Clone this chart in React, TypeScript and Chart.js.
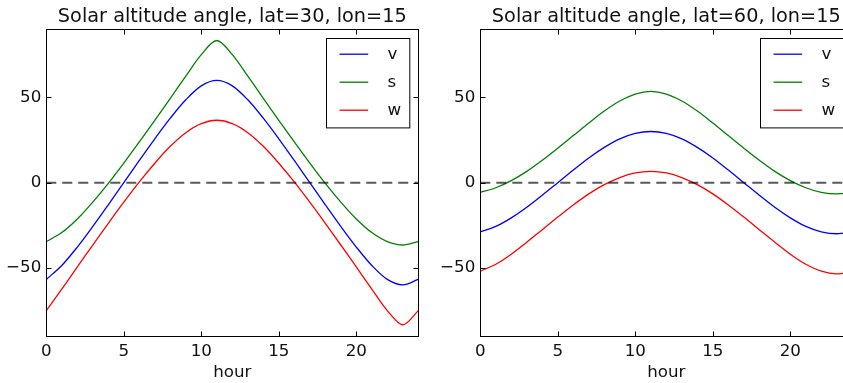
import React, { useEffect, useRef } from "react";
import { Chart, registerables } from "chart.js";

Chart.register(...registerables);

// ---- data ----
const hours = [0, 1, 2, 3, 4, 5, 6, 7, 8, 9, 10, 11, 12, 13, 14, 15, 16, 17, 18, 19, 20, 21, 22, 23, 24];

const v30 = [-56.8, -48.6, -37.8, -25.7, -13.0, 0, 13.0, 25.7, 37.8, 48.6, 56.8, 60.0, 56.8, 48.6, 37.8, 25.7, 13.0, 0, -13.0, -25.7, -37.8, -48.6, -56.8, -60.0, -56.8];
const s30 = [-34.6, -29.3, -21.3, -11.4, -0.4, 11.5, 23.9, 36.6, 49.5, 62.5, 75.1, 83.4, 75.1, 62.5, 49.5, 36.6, 23.9, 11.5, -0.4, -11.4, -21.3, -29.3, -34.6, -36.6, -34.6];
const w30 = [-75.1, -62.5, -49.5, -36.6, -23.9, -11.5, 0.4, 11.4, 21.3, 29.3, 34.6, 36.6, 34.6, 29.3, 21.3, 11.4, 0.4, -11.5, -23.9, -36.6, -49.5, -62.5, -75.1, -83.4, -75.1];

const v60 = [-28.9, -25.7, -20.7, -14.5, -7.4, 0, 7.4, 14.5, 20.7, 25.7, 28.9, 30.0, 28.9, 25.7, 20.7, 14.5, 7.4, 0, -7.4, -14.5, -20.7, -25.7, -28.9, -30.0, -28.9];
const s60 = [-5.7, -3.0, 1.2, 6.6, 13.1, 20.2, 27.6, 35.0, 42.0, 47.9, 52.0, 53.5, 52.0, 47.9, 42.0, 35.0, 27.6, 20.2, 13.1, 6.6, 1.2, -3.0, -5.7, -6.6, -5.7];
const w60 = [-52.0, -47.9, -42.0, -35.0, -27.6, -20.2, -13.1, -6.6, -1.2, 3.0, 5.7, 6.6, 5.7, 3.0, -1.2, -6.6, -13.1, -20.2, -27.6, -35.0, -42.0, -47.9, -52.0, -53.5, -52.0];

const seriesLabels = ["v", "s", "w"];
const seriesColors = ["#0000ff", "#008000", "#ff0000"];
const titles = ["Solar altitude angle, lat=30, lon=15", "Solar altitude angle, lat=60, lon=15"];
const xLabel = "hour";
const xTicks = [0, 5, 10, 15, 20];
const yTicks = [-50, 0, 50];
const xRange = [0, 24];
const yRange = [-90, 90];
const zeroLevel = 0;

const FONT = "'DejaVu Sans', sans-serif";
const TEXT = "#111";
const CANVAS_W = 432;
const CANVAS_H = 383;

const framePlugin = {
  id: "mplFrame",
  afterDatasetsDraw(chart: any) {
    const { ctx, chartArea: ca, scales } = chart;
    ctx.save();
    ctx.strokeStyle = "#000";
    ctx.lineWidth = 1;
    const l = Math.round(ca.left) + 0.5;
    const r = Math.round(ca.right) + 0.5;
    const t = Math.round(ca.top) + 0.5;
    const b = Math.round(ca.bottom) + 0.5;
    ctx.strokeRect(l, t, r - l, b - t);
    const tl = 5;
    ctx.beginPath();
    xTicks.forEach((v) => {
      const px = Math.round(scales.x.getPixelForValue(v)) + 0.5;
      ctx.moveTo(px, b);
      ctx.lineTo(px, b - tl);
      ctx.moveTo(px, t);
      ctx.lineTo(px, t + tl);
    });
    yTicks.forEach((v) => {
      const py = Math.round(scales.y.getPixelForValue(v)) + 0.5;
      ctx.moveTo(l, py);
      ctx.lineTo(l + tl, py);
      ctx.moveTo(r, py);
      ctx.lineTo(r - tl, py);
    });
    ctx.stroke();

    // legend (matplotlib style, upper right)
    const items = chart.data.datasets.filter((d: any) => seriesLabels.includes(d.label));
    const bw = 83.3;
    const bh = 89.4;
    const bx = Math.round(ca.right - 92.3) + 0.5;
    const by = Math.round(ca.top + 9) + 0.5;
    ctx.fillStyle = "#fff";
    ctx.fillRect(bx, by, bw, bh);
    ctx.strokeStyle = "#000";
    ctx.lineWidth = 1;
    ctx.strokeRect(bx, by, bw, bh);
    ctx.font = `16.7px ${FONT}`;
    ctx.textBaseline = "middle";
    ctx.textAlign = "left";
    items.forEach((d: any, i: number) => {
      const y = by + 15.7 + i * 28;
      ctx.strokeStyle = d.borderColor;
      ctx.lineWidth = 1.3;
      ctx.beginPath();
      ctx.moveTo(bx + 13, y);
      ctx.lineTo(bx + 41.7, y);
      ctx.stroke();
      ctx.fillStyle = TEXT;
      ctx.fillText(d.label, bx + 61, y + 0.5);
    });
    ctx.restore();
  },
};

function makeConfig(title: string, series: number[][]): any {
  const datasets: any[] = series.map((vals, i) => ({
    label: seriesLabels[i],
    data: hours.map((h, j) => ({ x: h, y: vals[j] })),
    borderColor: seriesColors[i],
    backgroundColor: seriesColors[i],
    borderWidth: 1.3,
    pointRadius: 0,
    tension: 0.33,
    fill: false,
    order: 4 - i,
  }));
  datasets.push({
    label: "_zero",
    data: [
      { x: xRange[0], y: zeroLevel },
      { x: xRange[1], y: zeroLevel },
    ],
    borderColor: "rgba(0,0,0,0.65)",
    borderWidth: 2,
    borderDash: [10, 6],
    pointRadius: 0,
    tension: 0,
    fill: false,
    order: 0,
  });

  return {
    type: "line",
    data: { datasets },
    options: {
      responsive: false,
      animation: false,
      layout: { padding: { left: 0, right: CANVAS_W - 418.3, top: 0, bottom: 0 } },
      plugins: {
        legend: { display: false },
        tooltip: { enabled: false },
        title: {
          display: true,
          text: title,
          fullSize: false,
          color: TEXT,
          font: { family: FONT, size: 19.3, weight: "normal", lineHeight: 1.2 },
          padding: { top: 5.2, bottom: 0.9 },
        },
      },
      scales: {
        x: {
          type: "linear",
          min: xRange[0],
          max: xRange[1],
          afterBuildTicks: (s: any) => {
            s.ticks = xTicks.map((value) => ({ value }));
          },
          afterFit: (s: any) => {
            s.height = 47;
          },
          ticks: {
            font: { family: FONT, size: 16.7 },
            color: TEXT,
            padding: 6,
            maxRotation: 0,
            autoSkip: false,
          },
          grid: { display: false, drawTicks: false },
          border: { display: false },
          title: {
            display: true,
            text: xLabel,
            color: TEXT,
            font: { family: FONT, size: 16.7, lineHeight: 1.2 },
            padding: { top: 0, bottom: 0 },
          },
        },
        y: {
          type: "linear",
          min: yRange[0],
          max: yRange[1],
          afterBuildTicks: (s: any) => {
            s.ticks = yTicks.map((value) => ({ value }));
          },
          afterFit: (s: any) => {
            s.width = 46.3;
          },
          ticks: {
            font: { family: FONT, size: 16.7 },
            color: TEXT,
            padding: 5,
            callback: (v: any) => (Number(v) < 0 ? "\u2212" + Math.abs(Number(v)) : String(v)),
          },
          grid: { display: false, drawTicks: false },
          border: { display: false },
        },
      },
    },
    plugins: [framePlugin],
  };
}

export default function App() {
  const leftRef = useRef<HTMLCanvasElement>(null);
  const rightRef = useRef<HTMLCanvasElement>(null);

  useEffect(() => {
    const c1 = new Chart(leftRef.current as HTMLCanvasElement, makeConfig(titles[0], [v30, s30, w30]));
    const c2 = new Chart(rightRef.current as HTMLCanvasElement, makeConfig(titles[1], [v60, s60, w60]));
    return () => {
      c1.destroy();
      c2.destroy();
    };
  }, []);

  return (
    <div
      style={{
        position: "fixed",
        left: 0,
        top: 0,
        width: 843,
        height: 383,
        overflow: "hidden",
        background: "#fff",
      }}
    >
      <div style={{ position: "absolute", left: 0, top: 0, width: CANVAS_W, height: CANVAS_H }}>
        <canvas ref={leftRef} width={CANVAS_W} height={CANVAS_H} />
      </div>
      <div style={{ position: "absolute", left: 434, top: 0, width: CANVAS_W, height: CANVAS_H }}>
        <canvas ref={rightRef} width={CANVAS_W} height={CANVAS_H} />
      </div>
    </div>
  );
}
